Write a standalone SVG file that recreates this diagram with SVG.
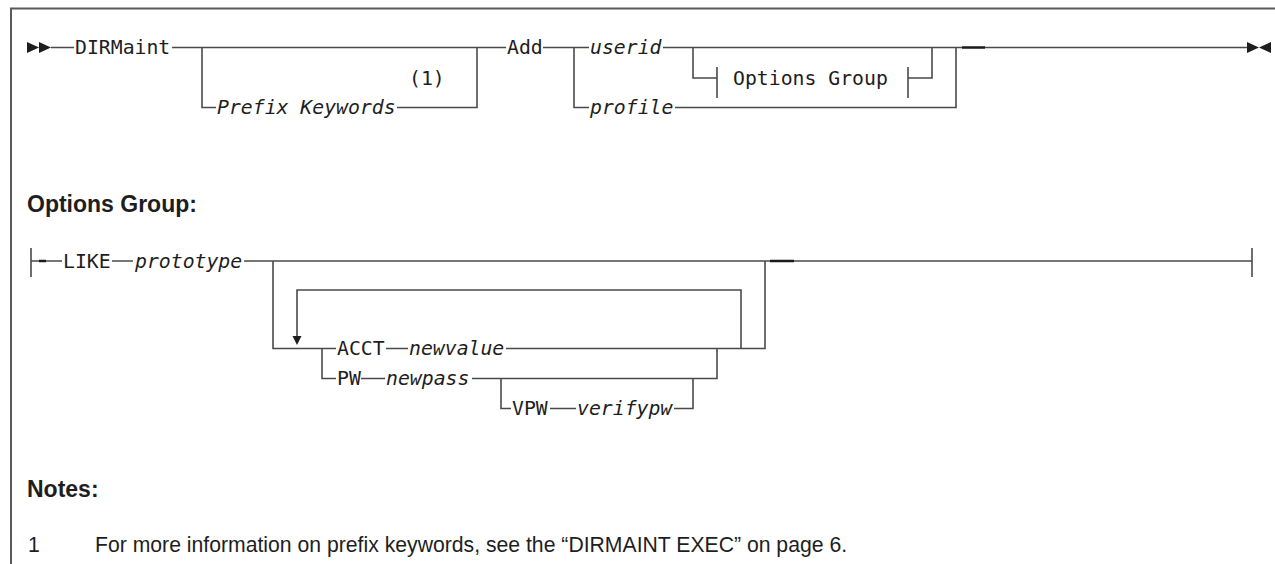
<svg xmlns="http://www.w3.org/2000/svg" width="1275" height="564" viewBox="0 0 1275 564">
<style>
.ln{fill:none;stroke:#4a4a4a;stroke-width:1.6}
.bd{fill:none;stroke:#5a5a5a;stroke-width:2}
.dk{fill:none;stroke:#1a1a1a;stroke-width:2.4}
.m{font-family:"DejaVu Sans Mono","Liberation Mono",monospace;font-size:19.8px;fill:#1e1e1e}
.i{font-style:italic}
.h{font-family:"Liberation Sans",Arial,sans-serif;font-weight:bold;font-size:23px;fill:#1e1e1e}
.n{font-family:"Liberation Sans",Arial,sans-serif;font-size:21.2px;fill:#1e1e1e}
.ar{fill:#1e1e1e}
</style>
<g id="frame">
<path class="bd" d="M11,564 V8.5 H1275"/>
</g>
<g id="connectors">
<path class="ar" d="M27,42 L39,47.5 L27,53 Z M39,42 L51,47.5 L39,53 Z"/>
<path class="ar" d="M1247,42 L1259,47.5 L1247,53 Z M1271,42 L1259,47.5 L1271,53 Z"/>
<path class="ln" d="M51,47.5 H74 M172,47.5 H506 M202,47.5 V107.5 H216 M397,107.5 H477 V47.5 M543,47.5 H589 M574,47.5 V107.5 H589 M663,47.5 H1247 M693,47.5 V78 H717 M717,67 V98 M908,67 V98 M908,78 H932 V47.5 M675,107.5 H956 V47.5"/>
<path class="dk" d="M962,47.5 H985"/>
<path class="ln" d="M31,248 V277 M31,261 H62 M112,261 H133 M244,261 H1252 M1252,248 V277"/>
<path class="dk" d="M39,261 H46 M770,261 H794"/>
<path class="ln" d="M273,261 V348.5 H336 M386,348.5 H408 M506,348.5 H765 V261 M741,348.5 V290 H297 V337 M322,348.5 V378.5 H336 M361,378.5 H385 M472,378.5 H717 V348.5 M501,378.5 V408.5 H511 M550,408.5 H576 M674,408.5 H693 V378.5"/>
<path class="ar" d="M292.5,336 H301.5 L297,345 Z"/>
</g>
<g id="n-dirmaint"><text class="m" x="75" y="54">DIRMaint</text></g>
<g id="n-prefix"><text class="m i" x="217" y="114">Prefix Keywords</text><text class="m" x="409" y="85">(1)</text></g>
<g id="n-add"><text class="m" x="507" y="54">Add</text></g>
<g id="n-userid"><text class="m i" x="590" y="54">userid</text></g>
<g id="n-profile"><text class="m i" x="590" y="114">profile</text></g>
<g id="n-options"><text class="m" x="733" y="85">Options Group</text></g>
<g id="h-options"><text class="h" x="27" y="212">Options Group:</text></g>
<g id="n-like"><text class="m" x="63" y="268">LIKE</text><text class="m i" x="135" y="268">prototype</text></g>
<g id="n-acct"><text class="m" x="337" y="355">ACCT</text><text class="m i" x="409" y="355">newvalue</text></g>
<g id="n-pw"><text class="m" x="337" y="385">PW</text><text class="m i" x="386" y="385">newpass</text></g>
<g id="n-vpw"><text class="m" x="512" y="415">VPW</text><text class="m i" x="577" y="415">verifypw</text></g>
<g id="notes">
<text class="h" x="27" y="497">Notes:</text>
<text class="n" x="28" y="552">1</text>
<text class="n" x="95" y="552">For more information on prefix keywords, see the “DIRMAINT EXEC” on page 6.</text>
</g>
</svg>
